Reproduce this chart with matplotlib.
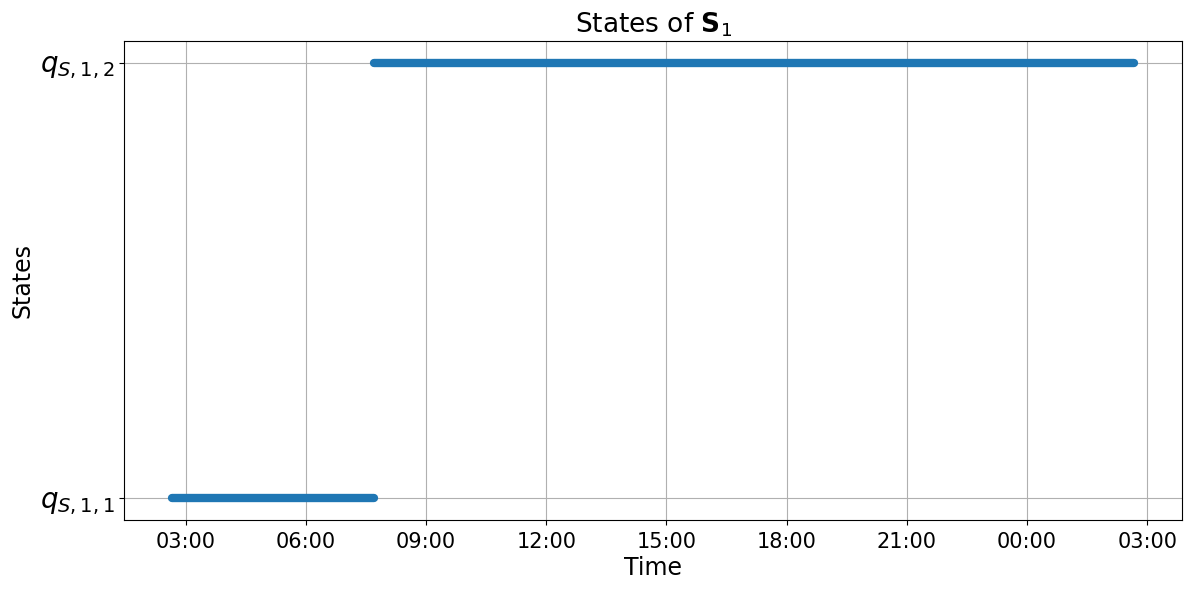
import matplotlib
matplotlib.use("Agg")
import matplotlib.pyplot as plt
import matplotlib.dates as mdates
import pandas as pd

state_labels = [r"$q_{S,1,1}$", r"$q_{S,1,2}$"]
seg_states = [0, 1]
seg_starts = ["2023-01-01 02:40", "2023-01-01 07:42"]
seg_ends = ["2023-01-01 07:42", "2023-01-02 02:40"]

fig = plt.figure(figsize=(11.94, 5.89), dpi=100)
ax = fig.add_axes([0.104, 0.117, 0.886, 0.813])

for s, e, st in zip(seg_starts, seg_ends, seg_states):
    ax.plot([pd.Timestamp(s), pd.Timestamp(e)], [st, st], color="#1f77b4",
            lw=6, solid_capstyle="round")

ax.set_yticks(range(len(state_labels)))
ax.set_yticklabels(state_labels, fontsize=20)
ax.xaxis.set_major_locator(mdates.HourLocator(byhour=range(0, 24, 3)))
ax.xaxis.set_major_formatter(mdates.DateFormatter("%H:%M"))
ax.tick_params(axis="x", labelsize=15, pad=5)
ax.grid(True, color="#b0b0b0", lw=0.8)
ax.set_xlabel("Time", fontsize=17, labelpad=3)
ax.set_ylabel("States", fontsize=17)
ax.set_title(r"States of $\mathbf{S}_1$", fontsize=19)

fig.savefig("out.png", dpi=100)
